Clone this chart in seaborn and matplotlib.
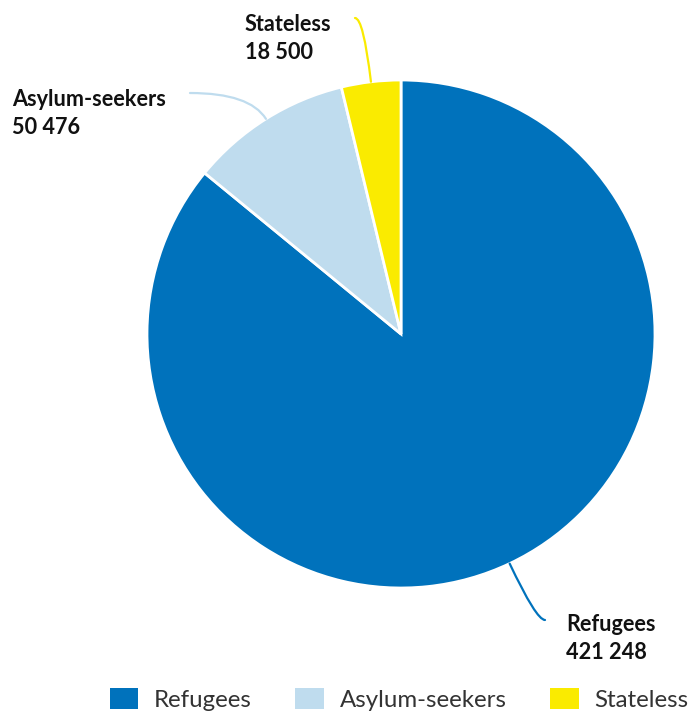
import numpy as np
import matplotlib
matplotlib.use("Agg")
import matplotlib.pyplot as plt
from matplotlib.patches import Patch
import seaborn as sns

categories = ["Refugees", "Asylum-seekers", "Stateless"]
values = [421248, 50476, 18500]
value_labels = ["421 248", "50 476", "18 500"]
colors = ["#0072BC", "#BFDCEE", "#FAEB00"]

sns.set_theme(style="white")
plt.rcParams["font.family"] = ["Lato", "DejaVu Sans"]

W, H = 689, 719
fig = plt.figure(figsize=(W / 100, H / 100), dpi=100)
ax = fig.add_axes([0, 0, 1, 1])

cx, cy, r = 401, 385, 254
wedges, _ = ax.pie(values, colors=colors, startangle=90, counterclock=False,
                   center=(cx, cy), radius=r, frame=False,
                   wedgeprops=dict(edgecolor="white", linewidth=2))
ax.set_xlim(0, W)
ax.set_ylim(0, H)
ax.set_aspect("equal")
ax.axis("off")

# leader line ends (text side) and label anchors, in pixel coords
line_ends = [(545, 99), (190, 626), (355, 701)]
label_pos = [(566, 105), (12, 630), (245, 705)]

for w, c, lab, val, end, pos in zip(wedges, colors, categories, value_labels,
                                    line_ends, label_pos):
    mid = np.deg2rad((w.theta1 + w.theta2) / 2)
    x0 = cx + r * np.cos(mid)
    y0 = cy + r * np.sin(mid)
    ax.annotate("", xy=(x0, y0), xytext=end,
                arrowprops=dict(arrowstyle="-", color=c, lw=1.6,
                                shrinkA=0, shrinkB=0,
                                connectionstyle=f"angle3,angleA=0,angleB={np.rad2deg(mid):.1f}"))
    ax.text(pos[0], pos[1], f"{lab}\n{val}", ha="left", va="top",
            fontsize=15.6, fontweight="bold", color="#111111", linespacing=1.4)

handles = [Patch(facecolor=c, edgecolor="none") for c in colors]
fig.legend(handles, categories, loc="lower center", bbox_to_anchor=(0.579, -0.005),
           ncol=3, frameon=False, fontsize=17.3, handlelength=1.2, handleheight=1.0,
           handletextpad=0.65, columnspacing=1.8, borderpad=0,
           labelcolor="#333333")

fig.savefig("out.png", dpi=100)
